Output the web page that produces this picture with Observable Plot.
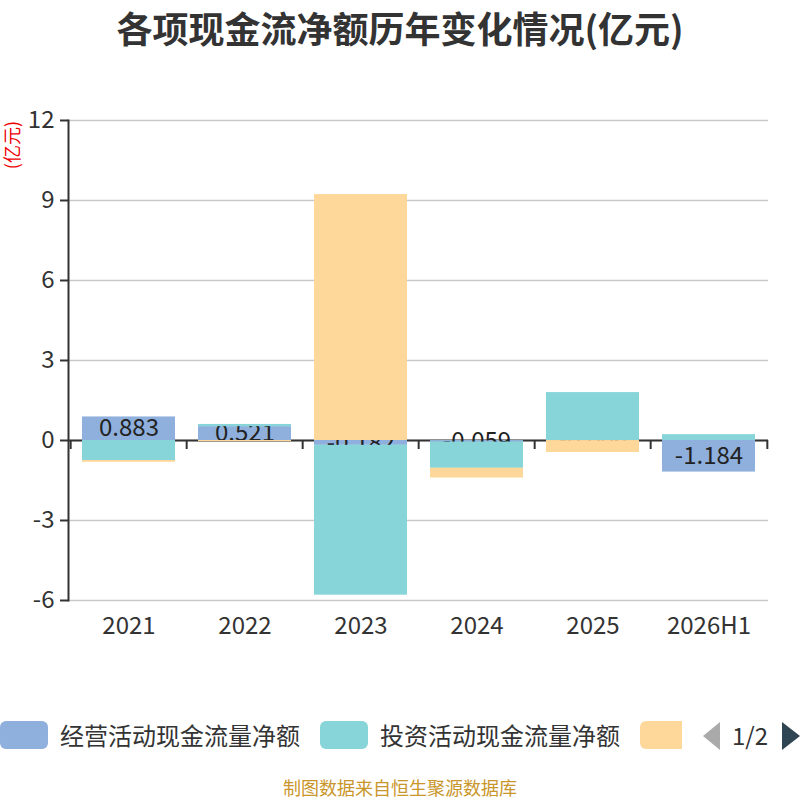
<!DOCTYPE html>
<html><head><meta charset="utf-8">
<script src="https://cdn.jsdelivr.net/npm/d3@7"></script>
<script src="https://cdn.jsdelivr.net/npm/@observablehq/plot@0.6"></script>
<style>
body{margin:0;background:#fff;font-family:"Noto Sans CJK SC","Noto Sans",sans-serif;}
#wrap{position:relative;width:800px;height:800px;overflow:hidden;background:#fff;}
#title{position:absolute;left:0;top:6px;width:800px;text-align:center;font-size:36px;font-weight:bold;color:#333;line-height:42px;}
#unit{position:absolute;left:2px;top:121px;width:18px;line-height:18px;white-space:nowrap;font-size:18px;color:#e00;writing-mode:vertical-rl;text-orientation:sideways;transform:rotate(180deg);}
#chart{position:absolute;left:0;top:0;}
#legend{position:absolute;left:0;top:720px;width:800px;height:32px;}
.item{position:absolute;top:0;height:30px;display:flex;align-items:center;}
.sw{width:48px;height:28px;border-radius:6px;margin-right:12px;flex:none;}
.lt{font-size:24px;color:#333;line-height:30px;}
#pl{position:absolute;left:703px;top:722px;width:0;height:0;border-top:14px solid transparent;border-bottom:14px solid transparent;border-right:17px solid #aaa;}
#pn{position:absolute;left:732px;top:719px;font-size:24px;color:#333;line-height:32px;}
#pr{position:absolute;left:782px;top:722px;width:0;height:0;border-top:14px solid transparent;border-bottom:14px solid transparent;border-left:18px solid #2f4554;}
#caption{position:absolute;left:0;top:777px;width:800px;text-align:center;font-size:18px;color:#c9962b;line-height:20px;}
</style></head><body>
<div id="wrap">
<div id="chart"></div>
<div id="title">各项现金流净额历年变化情况(亿元)</div>
<div id="unit">(亿元)</div>
<div id="legend"></div>
<div id="pl"></div><div id="pn">1/2</div><div id="pr"></div>
<div id="caption">制图数据来自恒生聚源数据库</div>
</div>
<script>
const years = ["2021","2022","2023","2024","2025","2026H1"];
const seriesNames = ["经营活动现金流量净额","投资活动现金流量净额","筹资活动现金流量净额"];
const operating = [0.883, 0.521, -0.182, -0.059, -0.006, -1.184];
const investing = [-0.75, 0.08, -5.61, -0.98, 1.79, 0.21];
const financing = [-0.06, -0.04, 9.22, -0.36, -0.44, 0];
const colors = ["#8fb0dd","#88d5d9","#fed89b"];
const yTicks = [-6,-3,0,3,6,9,12];

const seriesValues = [operating, investing, financing];
const data = [];
years.forEach((yr,i)=>{ seriesValues.forEach((arr,s)=>data.push({year:yr, series:seriesNames[s], value:arr[i]})); });

const W=800,H=660,mL=68,mR=32,mT=120,mB=60;
const step=(W-mL-mR)/years.length;
const font='"Noto Sans CJK SC","Noto Sans",sans-serif';
const chart = Plot.plot({
  width:W, height:H, marginLeft:mL, marginRight:mR, marginTop:mT, marginBottom:mB,
  style:{fontFamily:font, fontSize:"24px", color:"#333", background:"transparent", overflow:"visible"},
  x:{domain:years, paddingInner:0.2, paddingOuter:0.1, label:null},
  y:{domain:[-6,12], label:null},
  color:{domain:seriesNames, range:colors},
  marks:[
    Plot.gridY(yTicks,{stroke:"#c8c8c8", strokeOpacity:1, strokeWidth:1.5}),
    Plot.axisY(yTicks,{tickSize:8, tickPadding:6, fontSize:24, stroke:"#333", strokeWidth:2, label:null, tickFormat:d=>String(d)}),
    Plot.axisX({tickSize:0, tickPadding:16, fontSize:24, label:null}),
    Plot.ruleY([0],{stroke:"#333", strokeWidth:2}),
    Plot.ruleX(years,{x:d=>d, y1:0, y2:0, dx:-step/2, insetBottom:-9, stroke:"#333", strokeWidth:2}),
    Plot.ruleX(years.slice(-1),{x:d=>d, y1:0, y2:0, dx:step/2, insetBottom:-9, stroke:"#333", strokeWidth:2}),
    Plot.frame({anchor:"left", stroke:"#333", strokeWidth:2}),
    Plot.barY(data, Plot.stackY({x:"year", y:"value", fill:"series"})),
    Plot.text(data.filter(d=>d.series===seriesNames[0]), Plot.stackY({x:"year", y:"value", text:d=>d.value.toFixed(3), fontSize:24, fill:"#222"})),
    Plot.barY(data, Plot.stackY({x:"year", y:"value", fill:"series", fillOpacity:d=>d.series===seriesNames[0]?0:1}))
  ]
});
document.getElementById("chart").appendChild(chart);

// legend: page 1 shows the first two items fully, the third one's swatch is cut by the pager
const lg = document.getElementById("legend");
const lefts = [0,320,640];
seriesNames.forEach((n,i)=>{
  const it=document.createElement("div"); it.className="item"; it.style.left=lefts[i]+"px";
  const sw=document.createElement("div"); sw.className="sw"; sw.style.background=colors[i];
  it.appendChild(sw);
  if(i<2){
    const t=document.createElement("span"); t.className="lt"; t.textContent=n; it.appendChild(t);
  } else {
    sw.style.width="42px"; sw.style.borderRadius="6px 0 0 6px"; it.title=n;
  }
  lg.appendChild(it);
});
</script>
</body></html>
